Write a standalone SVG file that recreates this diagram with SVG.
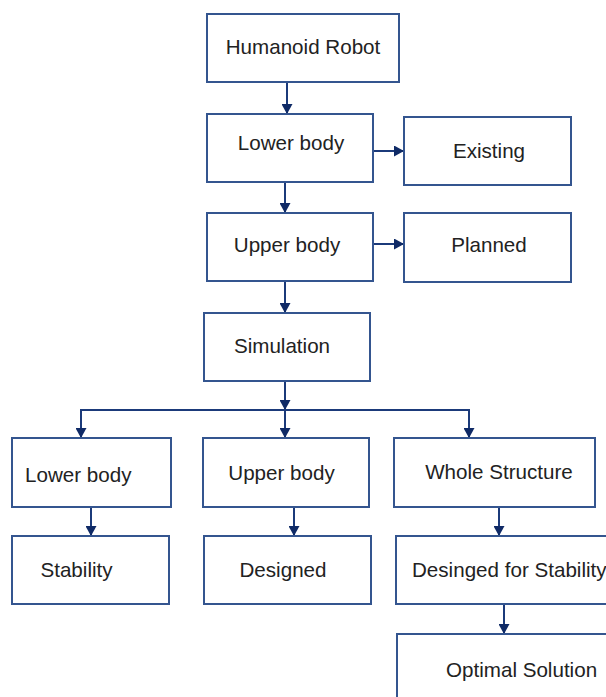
<svg xmlns="http://www.w3.org/2000/svg" width="606" height="697" viewBox="0 0 606 697">
<style>
.box{fill:#fff;stroke:#34558f;stroke-width:2}
.lbl{font-family:"Liberation Sans",Arial,sans-serif;font-size:20.6px;fill:#222;text-anchor:middle}
.st{text-anchor:start}
.con{stroke:#1b3a7a;stroke-width:2;fill:none}
.arr{marker-end:url(#ah)}
</style>
<defs>
<marker id="ah" markerUnits="userSpaceOnUse" markerWidth="11" markerHeight="11" refX="10" refY="5.5" orient="auto" viewBox="0 0 10 11">
<path d="M0,0 L10,5.5 L0,11 z" fill="#0f2a66"/>
</marker>
</defs>
<rect width="606" height="697" fill="#fff"/>
<g id="connectors">
<line class="con arr" x1="287" y1="82" x2="287" y2="114"/>
<line class="con arr" x1="285" y1="182" x2="285" y2="213"/>
<line class="con arr" x1="373" y1="151" x2="404" y2="151"/>
<line class="con arr" x1="373" y1="244" x2="404" y2="244"/>
<line class="con arr" x1="285" y1="281" x2="285" y2="313"/>
<line class="con arr" x1="285" y1="381" x2="285" y2="410"/>
<line class="con" x1="81" y1="410" x2="469" y2="410"/>
<line class="con arr" x1="285" y1="410" x2="285" y2="438"/>
<line class="con arr" x1="81" y1="409" x2="81" y2="438"/>
<line class="con arr" x1="469" y1="409" x2="469" y2="438"/>
<line class="con arr" x1="91" y1="507" x2="91" y2="536"/>
<line class="con arr" x1="294" y1="507" x2="294" y2="536"/>
<line class="con arr" x1="499" y1="507" x2="499" y2="536"/>
<line class="con arr" x1="504" y1="604" x2="504" y2="634"/>
</g>
<g id="humanoid"><rect class="box" x="207" y="14" width="192" height="68"/><text class="lbl" x="303" y="54">Humanoid Robot</text></g>
<g id="lower1"><rect class="box" x="207" y="114" width="166" height="68"/><text class="lbl" x="291" y="150">Lower body</text></g>
<g id="existing"><rect class="box" x="404" y="117" width="167" height="68"/><text class="lbl" x="489" y="158">Existing</text></g>
<g id="upper1"><rect class="box" x="207" y="213" width="166" height="68"/><text class="lbl" x="287" y="252">Upper body</text></g>
<g id="planned"><rect class="box" x="404" y="213" width="167" height="69"/><text class="lbl" x="489" y="252">Planned</text></g>
<g id="simulation"><rect class="box" x="204" y="313" width="166" height="68"/><text class="lbl" x="282" y="353">Simulation</text></g>
<g id="lower2"><rect class="box" x="12" y="438" width="159" height="69"/><text class="lbl st" x="25" y="482">Lower body</text></g>
<g id="upper2"><rect class="box" x="203" y="438" width="166" height="69"/><text class="lbl" x="281.5" y="480">Upper body</text></g>
<g id="whole"><rect class="box" x="394" y="438" width="201" height="69"/><text class="lbl" x="499" y="479">Whole Structure</text></g>
<g id="stability"><rect class="box" x="12" y="536" width="157" height="68"/><text class="lbl" x="76.5" y="577">Stability</text></g>
<g id="designed"><rect class="box" x="204" y="536" width="167" height="68"/><text class="lbl" x="283" y="577">Designed</text></g>
<g id="desinged"><rect class="box" x="396" y="536" width="230" height="68"/><text class="lbl st" x="412" y="577">Desinged for Stability</text></g>
<g id="optimal"><rect class="box" x="397" y="634" width="230" height="80"/><text class="lbl st" x="446" y="677">Optimal Solution</text></g>
</svg>
